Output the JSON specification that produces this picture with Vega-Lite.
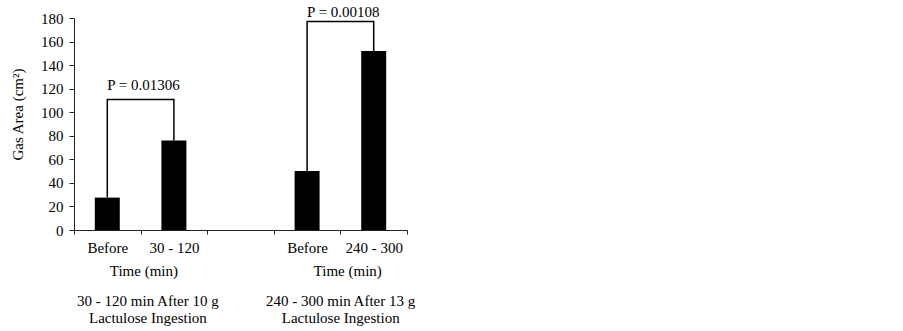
{
  "$schema": "https://vega.github.io/schema/vega-lite/v6.json",
  "width": 333,
  "height": 212,
  "autosize": {"type": "none"},
  "padding": {"left": 74, "top": 18, "right": 496, "bottom": 101},
  "background": "white",
  "config": {
    "view": {"stroke": null},
    "axisY": {"labelOverlap": false},
    "axis": {"labelOverlap": false}
  },
  "datasets": {
    "bars": [
      {"cat": "B1", "value": 27.5},
      {"cat": "A1", "value": 76},
      {"cat": "B2", "value": 50},
      {"cat": "A2", "value": 152}
    ],
    "brackets": [
      {"grp": 1, "ord": 1, "cat": "B1", "value": 27.5},
      {"grp": 1, "ord": 2, "cat": "B1", "value": 110.8},
      {"grp": 1, "ord": 3, "cat": "A1", "value": 110.8},
      {"grp": 1, "ord": 4, "cat": "A1", "value": 76},
      {"grp": 2, "ord": 1, "cat": "B2", "value": 50},
      {"grp": 2, "ord": 2, "cat": "B2", "value": 177},
      {"grp": 2, "ord": 3, "cat": "A2", "value": 177},
      {"grp": 2, "ord": 4, "cat": "A2", "value": 152}
    ],
    "pvals": [
      {"cat": "B1", "value": 118.6, "label": "P = 0.01306"},
      {"cat": "B2", "value": 181, "label": "P = 0.00108"}
    ],
    "notes": [
      {"k": "t1", "cat": "A1", "value": -39.3, "label": "Time (min)"},
      {"k": "t2", "cat": "A2", "value": -39.3, "label": "Time (min)"},
      {"k": "d1", "cat": "A1", "value": -64.5, "label": "30 - 120 min After 10 g"},
      {"k": "d1", "cat": "A1", "value": -79, "label": "Lactulose Ingestion"},
      {"k": "d2", "cat": "A2", "value": -64.5, "label": "240 - 300 min After 13 g"},
      {"k": "d2", "cat": "A2", "value": -79, "label": "Lactulose Ingestion"}
    ]
  },
  "encoding": {
    "x": {
      "field": "cat", "type": "nominal",
      "scale": {"domain": ["B1", "A1", "G", "B2", "A2"], "paddingInner": 0, "paddingOuter": 0},
      "axis": {
        "title": null,
        "grid": false,
        "labelAngle": 0,
        "tickBand": "extent",
        "tickSize": 4,
        "labelPadding": 6,
        "labelFont": "Liberation Serif",
        "labelFontSize": 15,
        "labelColor": "black",
        "domainColor": "#222",
        "tickColor": "#222",
        "labelExpr": "datum.value == 'B1' || datum.value == 'B2' ? 'Before' : datum.value == 'A1' ? '30 - 120' : datum.value == 'A2' ? '240 - 300' : ''"
      }
    },
    "y": {
      "field": "value", "type": "quantitative",
      "scale": {"domain": [0, 180], "nice": false},
      "axis": {
        "title": "Gas Area (cm²)",
        "values": [0, 20, 40, 60, 80, 100, 120, 140, 160, 180],
        "grid": false,
        "labelOverlap": false,
        "labelSeparation": 0,
        "tickSize": 5,
        "labelPadding": 6,
        "labelFont": "Liberation Serif",
        "labelFontSize": 15,
        "labelColor": "black",
        "titleFont": "Liberation Serif",
        "titleFontSize": 15,
        "titleFontWeight": "normal",
        "titleColor": "black",
        "domainColor": "#222",
        "tickColor": "#222",
        "titlePadding": 15,
        "titleY": 96
      }
    }
  },
  "layer": [
    {
      "data": {"name": "bars"},
      "mark": {"type": "bar", "color": "black", "width": {"band": 0.375}}
    },
    {
      "data": {"name": "brackets"},
      "mark": {"type": "line", "color": "black", "strokeWidth": 1.5},
      "encoding": {
        "detail": {"field": "grp"},
        "order": {"field": "ord"}
      }
    },
    {
      "data": {"name": "pvals"},
      "mark": {"type": "text", "align": "left", "baseline": "alphabetic", "font": "Liberation Serif", "fontSize": 15, "color": "black"},
      "encoding": {"text": {"field": "label"}}
    },
    {
      "data": {"name": "notes"},
      "transform": [{"filter": "datum.k == 't1'"}],
      "mark": {"type": "text", "align": "center", "baseline": "alphabetic", "dx": -30, "font": "Liberation Serif", "fontSize": 15, "color": "black"},
      "encoding": {"text": {"field": "label"}}
    },
    {
      "data": {"name": "notes"},
      "transform": [{"filter": "datum.k == 't2'"}],
      "mark": {"type": "text", "align": "center", "baseline": "alphabetic", "dx": -26, "font": "Liberation Serif", "fontSize": 15, "color": "black"},
      "encoding": {"text": {"field": "label"}}
    },
    {
      "data": {"name": "notes"},
      "transform": [{"filter": "datum.k == 'd1'"}],
      "mark": {"type": "text", "align": "center", "baseline": "alphabetic", "dx": -26, "font": "Liberation Serif", "fontSize": 15, "color": "black"},
      "encoding": {"text": {"field": "label"}}
    },
    {
      "data": {"name": "notes"},
      "transform": [{"filter": "datum.k == 'd2'"}],
      "mark": {"type": "text", "align": "center", "baseline": "alphabetic", "dx": -33, "font": "Liberation Serif", "fontSize": 15, "color": "black"},
      "encoding": {"text": {"field": "label"}}
    }
  ]
}
